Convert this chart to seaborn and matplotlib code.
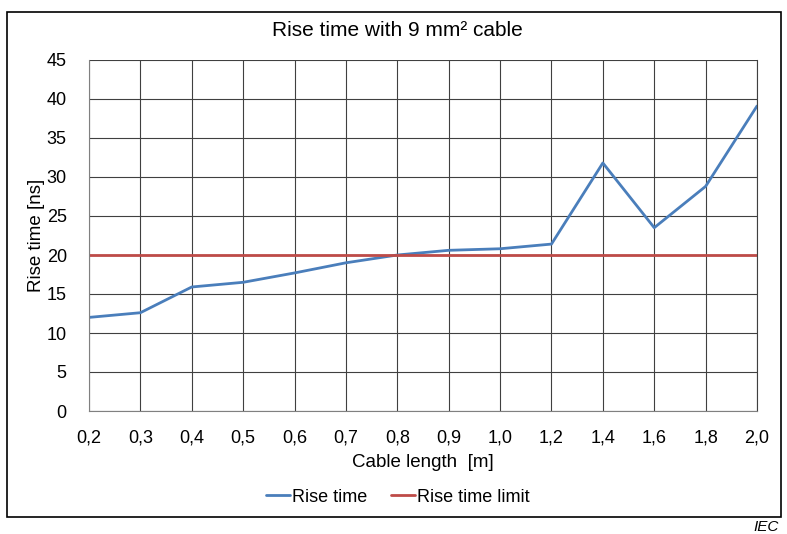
import matplotlib
matplotlib.use("Agg")
import matplotlib.pyplot as plt
import seaborn as sns
import pandas as pd
from matplotlib.patches import Rectangle

cable_length = ["0,2", "0,3", "0,4", "0,5", "0,6", "0,7", "0,8", "0,9", "1,0",
                "1,2", "1,4", "1,6", "1,8", "2,0"]
rise_time = [12.0, 12.6, 15.9, 16.5, 17.7, 19.0, 20.0, 20.6, 20.8,
             21.4, 31.8, 23.5, 28.8, 39.1]
rise_time_limit = [20] * len(cable_length)
y_ticks = [0, 5, 10, 15, 20, 25, 30, 35, 40, 45]

sns.set_style("white")
plt.rcParams['font.family'] = ['Liberation Sans', 'DejaVu Sans']
plt.rcParams['text.color'] = 'black'
plt.rcParams['axes.labelcolor'] = 'black'
plt.rcParams['xtick.color'] = 'black'
plt.rcParams['ytick.color'] = 'black'

df = pd.DataFrame({
    "Cable length": cable_length * 2,
    "value": rise_time + rise_time_limit,
    "series": ["Rise time"] * len(cable_length) + ["Rise time limit"] * len(cable_length),
})

fig = plt.figure(figsize=(7.87, 5.34), dpi=100)
ax = fig.add_axes([89 / 787, 1 - 411 / 534, (757 - 89) / 787, (411 - 60) / 534])

sns.lineplot(data=df, x="Cable length", y="value", hue="series",
             palette={"Rise time": "#4a7ebb", "Rise time limit": "#be4b48"},
             linewidth=2.0, ax=ax, sort=False, legend=True)

ax.set_xlim(0, len(cable_length) - 1)
ax.set_ylim(0, 45)
ax.set_yticks(y_ticks)
ax.grid(True, color="#404040", linewidth=0.8)
ax.set_axisbelow(True)
ax.spines["top"].set_visible(False)
ax.spines["right"].set_color("#404040")
ax.spines["right"].set_linewidth(0.8)
for s in ["left", "bottom"]:
    ax.spines[s].set_color("#808080")
    ax.spines[s].set_linewidth(0.8)
ax.tick_params(axis="y", labelsize=13, length=0, pad=16)
ax.tick_params(axis="x", labelsize=13, length=0, pad=13)
ax.set_xlabel("Cable length  [m]", fontsize=13.5, labelpad=6)
ax.set_ylabel("Rise time [ns]", fontsize=13.5, labelpad=1.5)

ax.legend_.remove()
handles, labels = ax.get_legend_handles_labels()
fig.legend(handles, labels, loc="center", bbox_to_anchor=(398 / 787, 1 - 497 / 534),
           ncol=2, frameon=False, fontsize=13, handlelength=1.3, handletextpad=0.15,
           columnspacing=1.3)

fig.text(397 / 787, 1 - 30 / 534, "Rise time with 9 mm² cable", ha="center",
         va="center", fontsize=15)
fig.text(779 / 787, 1 - 527 / 534, "IEC", ha="right", va="center", fontsize=11,
         style="italic")

fig.patches.append(Rectangle((7 / 787, 1 - 517 / 534), (781 - 7) / 787, (517 - 12) / 534,
                             transform=fig.transFigure, fill=False,
                             edgecolor="black", linewidth=1.2))

fig.savefig("out.png", dpi=100)
